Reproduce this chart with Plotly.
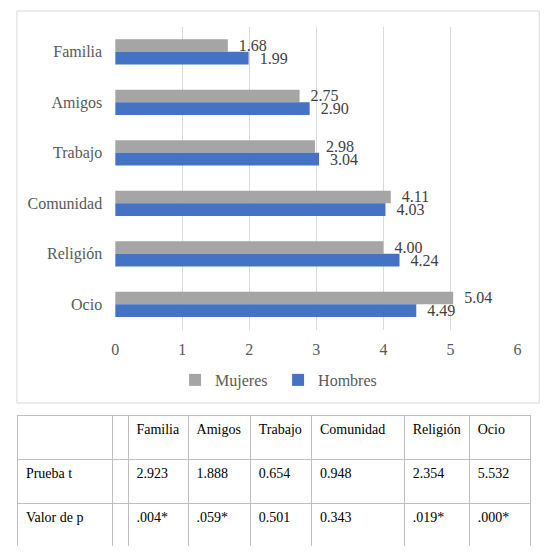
import plotly.graph_objects as go

# page has an 8px body margin, so the figure is drawn 8px smaller and
# positions below are given in window pixels
OFF = 8
W, H = 558 - OFF, 560 - OFF

categorias = ["Familia", "Amigos", "Trabajo", "Comunidad", "Religión", "Ocio"]
mujeres = [1.68, 2.75, 2.98, 4.11, 4.00, 5.04]
hombres = [1.99, 2.90, 3.04, 4.03, 4.24, 4.49]
x_ticks = [0, 1, 2, 3, 4, 5, 6]

filas = ["Prueba t", "Valor de p"]
prueba_t = ["2.923", "1.888", "0.654", "0.948", "2.354", "5.532"]
valor_p = [".004*", ".059*", "0.501", "0.343", ".019*", ".000*"]

GRAY = "#A5A5A5"
BLUE = "#4472C4"
GRID = "#D9D9D9"
TEXT = "#595959"
FONT = "Liberation Serif, Times New Roman, serif"


def px(x):
    return (x - OFF) / W


def py(y):
    return 1 - (y - OFF) / H


fig = go.Figure()

for name, vals, color in [("Mujeres", mujeres, GRAY), ("Hombres", hombres, BLUE)]:
    fig.add_trace(
        go.Bar(
            y=categorias,
            x=vals,
            orientation="h",
            name=name,
            marker=dict(color=color, line=dict(width=0)),
            texttemplate="\u00a0\u00a0%{x:.2f}",
            textposition="outside",
            constraintext="none",
            cliponaxis=False,
            textfont=dict(family=FONT, size=16, color="#404040"),
        )
    )

# table under the chart; the narrow blank column is in the original
fig.add_trace(
    go.Table(
        domain=dict(x=[px(14), px(535)], y=[py(547), py(415)]),
        columnwidth=[96, 16, 61, 63, 62, 94, 66, 62],
        header=dict(
            values=["", ""] + categorias,
            align="left",
            height=44,
            fill_color="white",
            line_color="#BFBFBF",
            font=dict(family=FONT, size=14, color="black"),
        ),
        cells=dict(
            values=[filas, ["", ""]] + [[t, p] for t, p in zip(prueba_t, valor_p)],
            align="left",
            height=44,
            fill_color="white",
            line_color="#BFBFBF",
            font=dict(family=FONT, size=14, color="black"),
        ),
    )
)

fig.add_shape(
    type="rect",
    xref="paper", yref="paper",
    x0=px(13), x1=px(543), y0=py(403), y1=py(11),
    line=dict(color=GRID, width=1),
)

fig.update_layout(
    width=W,
    height=H,
    autosize=False,
    margin=dict(l=0, r=0, t=0, b=0),
    paper_bgcolor="white",
    plot_bgcolor="white",
    barmode="group",
    bargap=0.5,
    bargroupgap=0,
    font=dict(family=FONT, size=16, color=TEXT),
    showlegend=True,
    legend=dict(
        orientation="h",
        x=px(278),
        xanchor="center",
        y=py(380),
        yanchor="middle",
        font=dict(family=FONT, size=16, color=TEXT),
        itemwidth=30,
        entrywidth=58,
        entrywidthmode="pixels",
    ),
    xaxis=dict(
        domain=[px(112.7), px(521)],
        range=[0, 6],
        tickvals=x_ticks,
        showgrid=True,
        gridcolor=GRID,
        zeroline=False,
        showline=False,
        ticks="",
        ticklabelstandoff=8,
        tickfont=dict(family=FONT, size=16, color=TEXT),
    ),
    yaxis=dict(
        domain=[py(329.5), py(26.5)],
        autorange="reversed",
        showgrid=False,
        zeroline=False,
        showline=False,
        ticks="",
        ticklabelstandoff=12,
        tickfont=dict(family=FONT, size=16, color=TEXT),
    ),
)

fig.write_html("out.html")
